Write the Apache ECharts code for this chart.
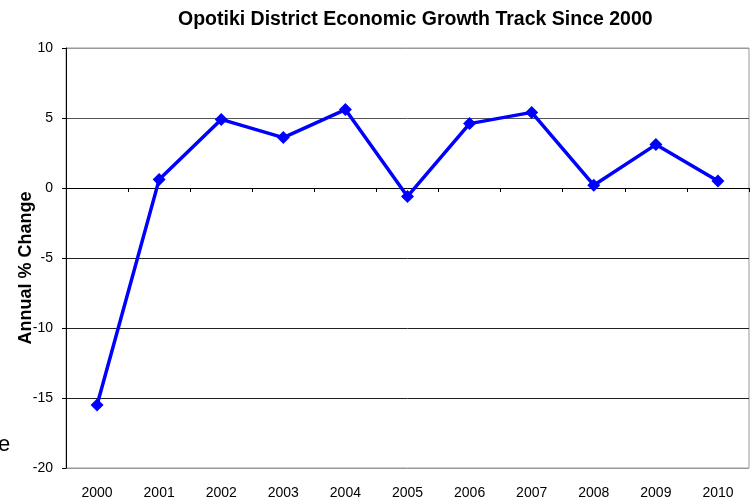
<!DOCTYPE html>
<html>
<head>
<meta charset="utf-8">
<script src="https://cdn.jsdelivr.net/npm/echarts@6/dist/echarts.min.js"></script>
<style>
  html, body { margin: 0; padding: 0; background: #fff; }
  #chart { width: 755px; height: 502px; }
</style>
</head>
<body>
<div id="chart"></div>
<script>
// Opotiki District annual economic growth, % change per year
const years = ['2000', '2001', '2002', '2003', '2004', '2005', '2006', '2007', '2008', '2009', '2010'];
const annualChange = [-15.5, 0.6, 4.9, 3.6, 5.6, -0.6, 4.6, 5.4, 0.2, 3.1, 0.5];
const yTicks = { min: -20, max: 10, step: 5 };

const FONT = '"Liberation Sans", Arial, sans-serif';

const chart = echarts.init(document.getElementById('chart'), null, { renderer: 'canvas' });

chart.setOption({
  animation: false,
  backgroundColor: '#ffffff',
  title: {
    text: 'Opotiki District Economic Growth Track Since 2000',
    left: 173,
    top: 5,
    textStyle: { fontFamily: FONT, fontWeight: 'bold', fontSize: 19.5, color: '#000' }
  },
  grid: {
    left: 66, right: 6, top: 48, bottom: 34,
    show: true, borderColor: '#999', borderWidth: 1, backgroundColor: 'transparent'
  },
  xAxis: [
    {
      // category axis drawn along the zero line
      type: 'category',
      data: years,
      boundaryGap: true,
      axisLine: { onZero: true, lineStyle: { color: '#000', width: 1 } },
      axisTick: { show: true, alignWithLabel: false, length: 4, lineStyle: { color: '#000' } },
      axisLabel: { show: false },
      splitLine: { show: false }
    },
    {
      // year labels along the bottom of the plot
      type: 'category',
      data: years,
      position: 'bottom',
      boundaryGap: true,
      axisLine: { show: false, onZero: false },
      axisTick: { show: false },
      axisLabel: { margin: 18, fontFamily: FONT, fontSize: 14, color: '#000' },
      splitLine: { show: false }
    }
  ],
  yAxis: {
    type: 'value',
    min: yTicks.min,
    max: yTicks.max,
    interval: yTicks.step,
    axisLine: { show: true, lineStyle: { color: '#000', width: 1 } },
    axisTick: { show: true, length: 4, lineStyle: { color: '#000' } },
    axisLabel: { margin: 13, fontFamily: FONT, fontSize: 14, color: '#000' },
    splitLine: {
      show: true,
      lineStyle: { color: ['#999', '#222', '#222', '#222', '#222', '#555', '#999'], width: 1 }
    }
  },
  graphic: [
    {
      // y-axis title, reading bottom to top
      type: 'text',
      x: 26,
      y: 268,
      rotation: Math.PI / 2,
      style: {
        text: 'Annual % Change',
        font: 'bold 18px ' + FONT,
        fill: '#000',
        align: 'center',
        verticalAlign: 'middle'
      }
    },
    {
      type: 'text',
      left: -2,
      top: 434,
      style: { text: 'e', font: '22px ' + FONT, fill: '#000' }
    }
  ],
  series: [
    {
      type: 'line',
      xAxisIndex: 0,
      data: annualChange,
      symbol: 'diamond',
      symbolSize: 13,
      lineStyle: { color: '#0000ff', width: 3.5 },
      itemStyle: { color: '#0000ff' },
      z: 5
    }
  ]
});
</script>
</body>
</html>
